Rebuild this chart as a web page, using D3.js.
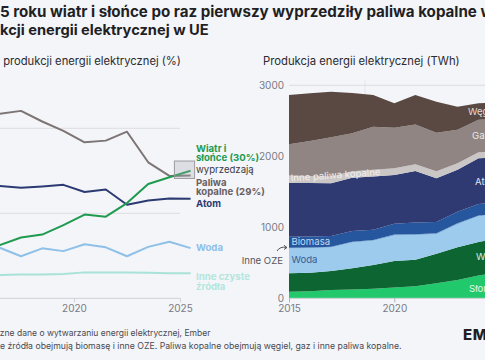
<!DOCTYPE html>
<html><head><meta charset="utf-8">
<script src="https://cdn.jsdelivr.net/npm/d3@7"></script>
<style>
html,body{margin:0;padding:0;background:#f3f5f9;overflow:hidden}
svg{display:block;font-family:Inter,"Noto Sans",sans-serif}
</style></head><body>
<svg id="c" width="485" height="360"></svg>
<script>
// ---- data ----
const years = [2015,2016,2017,2018,2019,2020,2021,2022,2023,2024,2025];
// share of electricity production (%)
const shareFossil     = [44.0,43.4,44.1,41.6,39.4,36.7,37.1,39.2,32.0,28.8,28.9];
const shareNuclear    = [26.5,26.4,26.0,26.3,26.7,25.0,25.6,22.0,23.0,23.5,23.4];
const shareWindSolar  = [11.5,12.5,14.3,15.0,17.2,19.7,19.2,22.4,26.9,28.5,30.0];
const shareHydro      = [11.5,11.9,9.9,11.75,11.1,12.7,12.0,9.9,12.1,13.3,11.8];
const shareOtherClean = [5.5,5.5,5.6,5.6,5.7,6.1,6.1,6.1,6.0,5.9,5.9];
// production (TWh)
const twhSolar       = [93,99,117,124,134,152,169,211,258,321,370];
const twhWind        = [259,262,268,298,335,373,375,417,460,472,480];
const twhHydro       = [348,343,330,363,340,361,346,275,326,361,330];
const twhOtherRen    = [12,12,12,12,12,12,12,12,12,12,12];
const twhBiomass     = [155,156,151,150,145,151,166,159,163,162,160];
const twhNuclear     = [761,751,741,750,749,687,724,616,592,643,640];
const twhOtherFossil = [100,98,95,92,95,95,95,100,92,85,80];
const twhGas         = [440,494,553,534,606,571,560,542,471,459,450];
const twhCoal        = [695,672,643,569,447,344,416,437,325,232,240];
const leftTicksX  = [2020,2025];
const leftGrid    = [0,20,40];
const rightTicksX = [2015,2020];
const rightTicksY = [0,1000,2000,3000];

const svg = d3.select("#c");

function fitText(sel, prefix, visible, suffix, x0, width){
  // place text so that 'visible' part starts at x0 and spans width
  const t = sel;
  t.text(visible);
  let w = t.node().getComputedTextLength();
  let fs = parseFloat(t.attr("font-size"));
  fs = fs*width/w; t.attr("font-size", fs);
  t.text(prefix);
  const pw = prefix ? t.node().getComputedTextLength() : 0;
  t.text(prefix+visible+suffix).attr("x", x0 - pw);
}

// ---- titles ----
fitText(svg.append("text").attr("y",17).attr("font-size",15).attr("font-weight",700).attr("fill","#1f1f24"),
  "W 202","5 roku wiatr i słońce po raz pierwszy wyprzedziły paliwa kopalne ","w produkcji",0,477);
fitText(svg.append("text").attr("y",35).attr("font-size",15).attr("font-weight",700).attr("fill","#1f1f24"),
  "w produ","kcji energii elektrycznej w UE","",0,209);
fitText(svg.append("text").attr("y",65).attr("font-size",10.5).attr("fill","#2b2b30"),
  "Udział w ","produkcji energii elektrycznej (%)","",0,178);
fitText(svg.append("text").attr("y",65).attr("font-size",10.5).attr("fill","#2b2b30"),
  "","Produkcja energii elektrycznej (TWh)","",263,197);

// ---- left chart ----
const xL = d3.scaleLinear().domain([2020,2025]).range([74,180]);
const yL = d3.scaleLinear().domain([0,40]).range([298.3,128.3]);
const gL = svg.append("g");
gL.selectAll("line.grid").data(leftGrid.filter(d=>d>0)).join("line")
  .attr("x1",-5).attr("x2",180).attr("y1",d=>yL(d)).attr("y2",d=>yL(d))
  .attr("stroke","#dcdde2").attr("stroke-width",1);
const axL = gL.append("g").attr("transform",`translate(0,${yL(0)})`)
  .call(d3.axisBottom(xL).tickValues(leftTicksX).tickFormat(d3.format("d")).tickSize(4).tickPadding(3));
axL.select(".domain").attr("d",`M-5,0H180`).attr("stroke","#cfd0d6");
axL.selectAll(".tick line").attr("stroke","#cfd0d6");
axL.selectAll(".tick text").attr("fill","#7a7a82").attr("font-size",10).attr("font-family","Inter,sans-serif");

const seriesL = [
  {vals:shareOtherClean, color:"#a9e2d8"},
  {vals:shareHydro, color:"#8fc0e8"},
  {vals:shareNuclear, color:"#2c3a72"},
  {vals:shareFossil, color:"#7d7474"},
  {vals:shareWindSolar, color:"#1f9a4f"}
];
const lineL = d3.line().x((d,i)=>xL(years[i]+0.5)).y(d=>yL(d));
gL.selectAll("path.s").data(seriesL).join("path")
  .attr("d",d=>lineL(d.vals)).attr("fill","none").attr("stroke",d=>d.color)
  .attr("stroke-width",2).attr("stroke-linejoin","round");

// annotation box at crossover
gL.append("rect").attr("x",xL(2024.5)+5).attr("y",yL(32.3)).attr("width",xL(2025.5)-xL(2024.5)-1)
  .attr("height",yL(28.2)-yL(32.3)).attr("fill","rgba(170,170,175,0.3)").attr("stroke","#9b9ba0").attr("stroke-width",1);

const lblX = 196;
const labelsL = [
  {t:"Wiatr i", y:151.5, c:"#1f9a4f", w:700},
  {t:"słońce (30%)", y:161, c:"#1f9a4f", w:700},
  {t:"wyprzedzają", y:173, c:"#3a3a40", w:400},
  {t:"Paliwa", y:186, c:"#6a5f60", w:700},
  {t:"kopalne (29%)", y:195, c:"#6a5f60", w:700},
  {t:"Atom", y:207, c:"#2c3a72", w:700},
  {t:"Woda", y:251, c:"#8fc0e8", w:700},
  {t:"Inne czyste", y:280, c:"#b3e6dd", w:700},
  {t:"źródła", y:289.5, c:"#b3e6dd", w:700}
];
gL.selectAll("text.l").data(labelsL).join("text")
  .attr("x",lblX).attr("y",d=>d.y).attr("fill",d=>d.c).attr("font-weight",d=>d.w)
  .attr("font-size",9.6).text(d=>d.t);

// ---- right chart ----
const xR = d3.scaleLinear().domain([2015,2020]).range([289,394.3]);
const yR = d3.scaleLinear().domain([0,3000]).range([298.3,85.3]);
const gR = svg.append("g");
gR.append("line").attr("x1",289).attr("x2",490).attr("y1",yR(3000)).attr("y2",yR(3000)).attr("stroke","#dcdde2");
gR.append("line").attr("x1",365).attr("x2",365).attr("y1",80).attr("y2",298).attr("stroke","#e3e4ea");

const keys = ["solar","wind","hydro","otherRen","biomass","nuclear","otherFossil","gas","coal"];
const colors = {solar:"#22c96c",wind:"#0d6631",hydro:"#9ccbee",otherRen:"#6ea6d8",biomass:"#25569e",
  nuclear:"#2f3a73",otherFossil:"#cac6c6",gas:"#908583",coal:"#5a4943"};
const table = years.map((y,i)=>({year:y,solar:twhSolar[i],wind:twhWind[i],hydro:twhHydro[i],otherRen:twhOtherRen[i],
  biomass:twhBiomass[i],nuclear:twhNuclear[i],otherFossil:twhOtherFossil[i],gas:twhGas[i],coal:twhCoal[i]}));
const stacked = d3.stack().keys(keys)(table);
const area = d3.area().x(d=>xR(d.data.year)).y0(d=>yR(d[0])).y1(d=>yR(d[1]));
gR.selectAll("path.a").data(stacked).join("path").attr("d",area).attr("fill",d=>colors[d.key]);

const axRy = gR.append("g").attr("transform","translate(284,0)")
  .call(d3.axisLeft(yR).tickValues(rightTicksY).tickFormat(d3.format("d")).tickSize(0).tickPadding(0));
axRy.select(".domain").remove();
axRy.selectAll(".tick text").attr("fill","#7a7a82").attr("font-size",10).attr("font-family","Inter,sans-serif");
const axRx = gR.append("g").attr("transform",`translate(0,${yR(0)})`)
  .call(d3.axisBottom(xR).tickValues(rightTicksX).tickFormat(d3.format("d")).tickSize(4).tickPadding(3));
axRx.select(".domain").attr("d","M289,0H490").attr("stroke","#cfd0d6");
axRx.selectAll(".tick line").attr("stroke","#aeb0b8");
axRx.selectAll(".tick text").attr("fill","#7a7a82").attr("font-size",10).attr("font-family","Inter,sans-serif");

const labelsR = [
  {t:"Węgiel", x:468, y:115, c:"#e3dcd8"},
  {t:"Gaz", x:472, y:138.5, c:"#ece8e6"},
  {t:"Atom", x:475, y:185, c:"#dfe3f0"},
  {t:"Wiatr", x:476, y:260, c:"#dcebe1"},
  {t:"Słońce", x:469, y:291.5, c:"#e1f7ea"},
  {t:"Biomasa", x:291.5, y:245, c:"#c3d9f2"},
  {t:"Woda", x:291.5, y:263, c:"#3b5c92"}
];
gR.selectAll("text.r").data(labelsR).join("text").attr("x",d=>d.x).attr("y",d=>d.y)
  .attr("fill",d=>d.c).attr("font-size",9.6).text(d=>d.t);
gR.append("text").attr("transform","translate(291,181.5) rotate(-4)").attr("fill","#f2f0f0")
  .attr("font-size",9.6).text("Inne paliwa kopalne");
gR.append("text").attr("x",283).attr("y",263.5).attr("text-anchor","end").attr("fill","#55555c")
  .attr("font-size",9.6).text("Inne OZE");
gR.append("path").attr("d","M277,251 Q280,246 287,247.5").attr("fill","none").attr("stroke","#55555c").attr("stroke-width",1);
gR.append("path").attr("d","M287,247.5 l-3,-2.2 M287,247.5 l-3,2").attr("stroke","#55555c").attr("stroke-width",1);

// ---- footer ----
fitText(svg.append("text").attr("y",336).attr("font-size",8).attr("fill","#4a4a52"),
  "Źródło: Roc","zne dane o wytwarzaniu energii elektrycznej, Ember","",0,211);
fitText(svg.append("text").attr("y",349).attr("font-size",8).attr("fill","#4a4a52"),
  "Inne czyste ","źródła obejmują biomasę i inne OZE. Paliwa kopalne obejmują węgiel, gaz i inne paliwa kopalne.","",5,395);
svg.append("text").attr("x",463).attr("y",340).attr("font-size",15).attr("font-weight",800)
  .attr("fill","#1f1f24").attr("letter-spacing",0.5).text("EMBER");
</script></body></html>
